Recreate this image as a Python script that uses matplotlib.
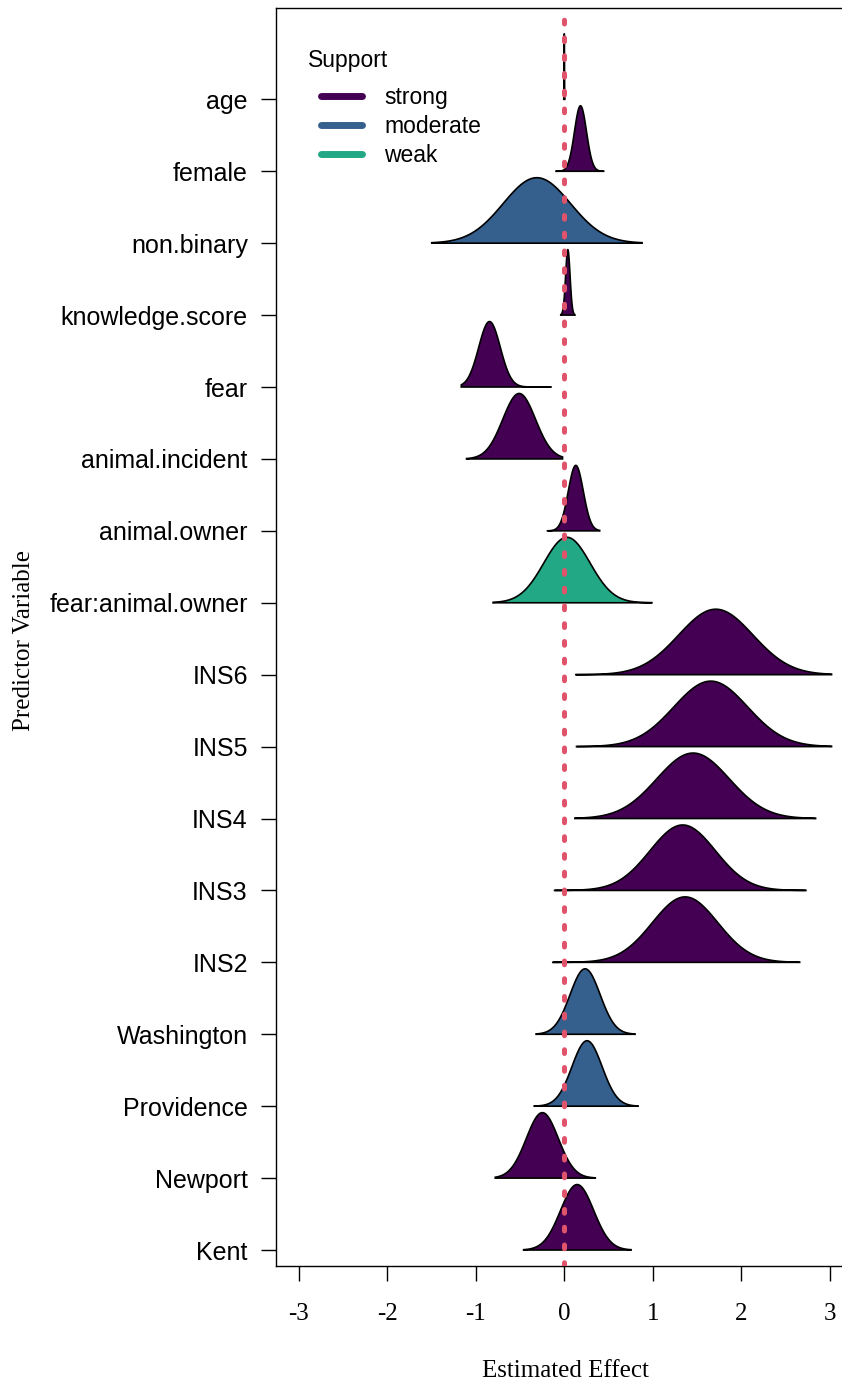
import numpy as np
import matplotlib
matplotlib.use("Agg")
import matplotlib.pyplot as plt
from matplotlib.lines import Line2D

# ---------------- data ----------------
variables = ["age", "female", "non.binary", "knowledge.score", "fear",
             "animal.incident", "animal.owner", "fear:animal.owner",
             "INS6", "INS5", "INS4", "INS3", "INS2",
             "Washington", "Providence", "Newport", "Kent"]
post_mean = [0.000, 0.183, -0.31, 0.040, -0.845, -0.510, 0.130, 0.030,
             1.712, 1.655, 1.455, 1.338, 1.365,
             0.235, 0.257, -0.248, 0.145]
post_sd = [0.002, 0.068, 0.380, 0.025, 0.122, 0.185, 0.085, 0.262,
           0.420, 0.417, 0.410, 0.370, 0.370,
           0.170, 0.170, 0.181, 0.187]
post_min = [-0.006, -0.094, -1.498, -0.040, -1.164, -1.105, -0.190, -0.805,
            0.130, 0.138, 0.119, -0.110, -0.130,
            -0.319, -0.340, -0.780, -0.460]
post_max = [0.006, 0.445, 0.879, 0.120, -0.150, -0.020, 0.400, 0.990,
            3.020, 3.020, 2.840, 2.730, 2.660,
            0.800, 0.834, 0.350, 0.755]
support = ["strong", "strong", "moderate", "strong", "strong",
           "strong", "strong", "weak",
           "strong", "strong", "strong", "strong", "strong",
           "moderate", "moderate", "strong", "strong"]
support_levels = ["strong", "moderate", "weak"]
support_colors = {"strong": "#440154", "moderate": "#355F8D", "weak": "#22A884"}
x_ticks = [-3, -2, -1, 0, 1, 2, 3]

# ---------------- figure ----------------
plt.rcParams["font.family"] = ["Liberation Sans", "DejaVu Sans"]
W, H = 842, 1386
fig = plt.figure(figsize=(W / 100, H / 100), dpi=100)
ax_left, ax_right, ax_top, ax_bot = 276, 854, 8, 1265.7
ax = fig.add_axes([ax_left / W, (H - ax_bot) / H,
                   (ax_right - ax_left) / W, (ax_bot - ax_top) / H])

n = len(variables)
ridge_h = 0.91
for i, var in enumerate(variables):
    base = n - i
    xs = np.linspace(post_min[i], post_max[i], 600)
    dens = np.exp(-0.5 * ((xs - post_mean[i]) / post_sd[i]) ** 2)
    dens = dens / dens.max() * ridge_h
    px = np.concatenate([[xs[0]], xs, [xs[-1]]])
    py = np.concatenate([[base], base + dens, [base]])
    ax.fill(px, py, facecolor=support_colors[support[i]], edgecolor="black",
            linewidth=1.2, zorder=2 + i * 0.01)

ax.axvline(0, color="#DF536B", lw=3.6, linestyle=(0, (0.75, 2.8)),
           dash_capstyle="round", zorder=5)

ax.set_xlim((ax_left - 564.3) / 88.5, (ax_right - 564.3) / 88.5)
ax.set_ylim(0.782, 18.27)

ax.set_yticks(range(n, 0, -1))
ax.set_yticklabels(variables, fontsize=18, family=["Liberation Sans", "DejaVu Sans"])
ax.set_xticks(x_ticks)
ax.set_xticklabels([str(t) for t in x_ticks], fontsize=18,
                   family=["Liberation Serif", "DejaVu Serif"])
ax.tick_params(axis="y", length=10.8, width=1.0, pad=9.5, direction="out")
ax.tick_params(axis="x", length=10.5, width=1.0, pad=16, direction="out")

for s in ["left", "top", "bottom"]:
    ax.spines[s].set_linewidth(1.0)
    ax.spines[s].set_color("black")
ax.spines["right"].set_visible(False)

ax.set_xlabel("Estimated Effect", fontsize=18,
              family=["Liberation Serif", "DejaVu Serif"], va="baseline")
ax.xaxis.set_label_coords(0.5, (ax_bot - 1376.7) / (ax_bot - ax_top))
ax.set_ylabel("Predictor Variable", fontsize=18,
              family=["Liberation Serif", "DejaVu Serif"], va="center")
ax.yaxis.set_label_coords((24 - ax_left) / (ax_right - ax_left), 0.5 - 4 / (ax_bot - ax_top))

# legend
handles = [Line2D([], [], color=support_colors[s], lw=5, solid_capstyle="round")
           for s in support_levels]
leg = ax.legend(handles, support_levels, loc="upper left",
                bbox_to_anchor=(320.5 / W, 1 - 86 / H), bbox_transform=fig.transFigure,
                frameon=False, fontsize=16.5, handlelength=1.83, handletextpad=0.95,
                labelspacing=0.27, borderpad=0, borderaxespad=0)
fig.text(308 / W, 1 - 66.7 / H, "Support", fontsize=16.5, va="baseline", ha="left")

fig.savefig("out.png", dpi=100)
